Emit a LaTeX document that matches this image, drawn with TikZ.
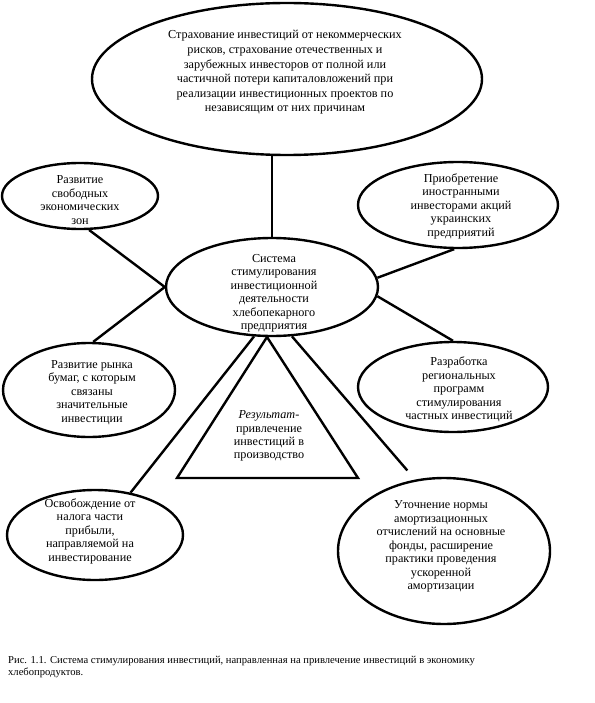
\documentclass[tikz,border=0pt]{standalone}
\usepackage{fontspec}
\setmainfont{Liberation Serif}
\usetikzlibrary{shapes.geometric}
\begin{document}
\begin{tikzpicture}[x=1pt,y=-1pt,
  oval/.style={draw=black,line width=2.4pt,ellipse,inner sep=0pt,fill=none},
  conn/.style={draw=black,line width=2.4pt},
  txt/.style={align=center,inner sep=0pt,font=\fontsize{12.2}{13.5}\selectfont},
  bigtxt/.style={align=center,inner sep=0pt,font=\fontsize{12.2}{14.6}\selectfont}]
\useasboundingbox (0,0) rectangle (594,703);
\fill[white] (0,0) rectangle (594,703);
% ellipses
\node[oval,minimum width=390pt,minimum height=152pt] (top) at (287,79) {};
\node[oval,minimum width=156pt,minimum height=66pt] (lt) at (80,196) {};
\node[oval,minimum width=200pt,minimum height=86pt] (rt) at (458,205) {};
\node[oval,minimum width=212pt,minimum height=98pt] (c) at (272,287) {};
\node[oval,minimum width=172pt,minimum height=94pt] (lm) at (89,390) {};
\node[oval,minimum width=190pt,minimum height=90pt] (rm) at (453,387) {};
\node[oval,minimum width=176pt,minimum height=90pt] (lb) at (95,535) {};
\node[oval,minimum width=212pt,minimum height=146pt] (rb) at (444,551) {};
% triangle
\coordinate (apex) at (267,337);
\coordinate (tbl) at (177,478);
\coordinate (tbr) at (358,478);
\draw[conn,line join=miter] (apex) -- (tbl) -- (tbr) -- cycle;
% connectors
\draw[conn] (top.south -| c.north) -- (c.north);
\draw[conn] (lt.-75) -- (c.west);
\draw[conn] (lm.85) -- (c.west);
\draw[conn] (c.5) -- (rt.-95);
\draw[conn] (c.-5) -- (rm.90);
\draw[conn] (c.-110) -- (lb.50);
\draw[conn,shorten >=12pt] (c.-68) -- (rb.112);
% texts
\node[bigtxt] (ttop) at (285,72.5) {Страхование инвестиций от некоммерческих\\рисков, страхование отечественных и\\зарубежных инвесторов от полной или\\частичной потери капиталовложений при\\реализации инвестиционных проектов по\\независящим от них причинам};
\node[txt] (tlt) at (80,200) {Развитие\\свободных\\экономических\\зон};
\node[txt] (trt) at (461,206) {Приобретение\\иностранными\\инвесторами акций\\украинских\\предприятий};
\node[txt] (tc) at (274,293.5) {Система\\стимулирования\\инвестиционной\\деятельности\\хлебопекарного\\предприятия};
\node[txt] (tlm) at (92,392.5) {Развитие рынка\\бумаг, с которым\\связаны\\значительные\\инвестиции};
\node[txt] (trm) at (459,389.5) {Разработка\\региональных\\программ\\стимулирования\\частных инвестиций};
\node[txt] (tlb) at (90,531) {Освобождение от\\налога части\\прибыли,\\направляемой на\\инвестирование};
\node[txt] (trb) at (441,546.5) {Уточнение нормы\\амортизационных\\отчислений на основные\\фонды, расширение\\практики проведения\\ускоренной\\амортизации};
\node[txt] (ttri) at (269,436) {\textit{Результат}-\\привлечение\\инвестиций в\\[-1pt]производство};
\node[align=left,anchor=north west,inner sep=0pt,font=\fontsize{10.6}{12.5}\selectfont] (cap) at (8,656) {Рис. 1.1. Система стимулирования инвестиций, направленная на привлечение инвестиций в экономику\\хлебопродуктов.};
\end{tikzpicture}
\end{document}
